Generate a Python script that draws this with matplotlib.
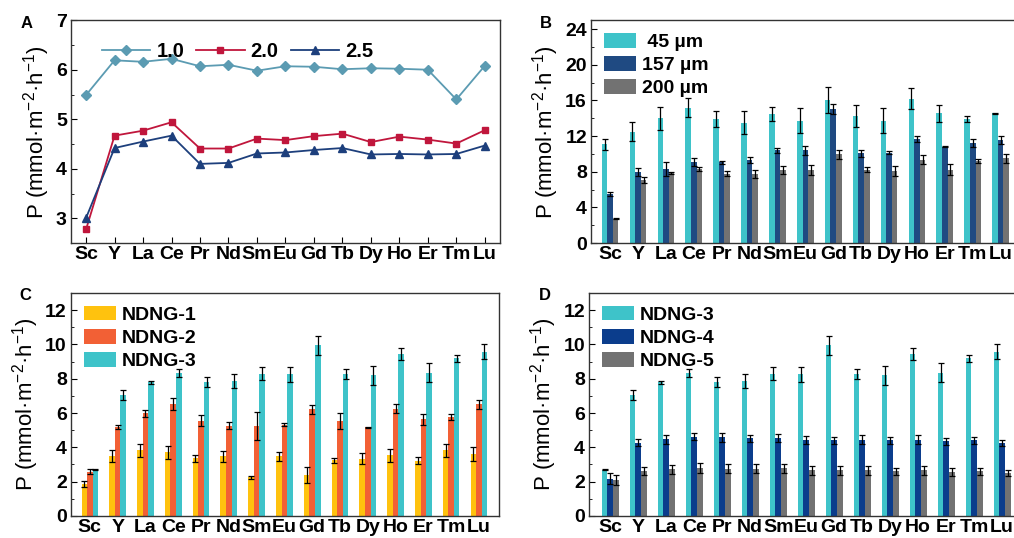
import numpy as np
import matplotlib
matplotlib.use("Agg")
import matplotlib.pyplot as plt
from matplotlib.ticker import MultipleLocator

plt.rcParams['font.family'] = ['Liberation Sans', 'DejaVu Sans']
plt.rcParams['mathtext.fontset'] = 'custom'
plt.rcParams['mathtext.rm'] = 'Liberation Sans'
plt.rcParams['mathtext.it'] = 'Liberation Sans:italic'
plt.rcParams['mathtext.bf'] = 'Liberation Sans:bold'

elements = ['Sc', 'Y', 'La', 'Ce', 'Pr', 'Nd', 'Sm', 'Eu', 'Gd', 'Tb', 'Dy', 'Ho', 'Er', 'Tm', 'Lu']

# Panel A: three ratios
a_10 = [5.49, 6.19, 6.16, 6.22, 6.07, 6.10, 5.98, 6.07, 6.06, 6.01, 6.03, 6.02, 6.00, 5.40, 6.08]
a_20 = [2.78, 4.67, 4.77, 4.94, 4.41, 4.41, 4.61, 4.58, 4.66, 4.71, 4.54, 4.65, 4.59, 4.51, 4.78]
a_25 = [3.01, 4.42, 4.55, 4.67, 4.10, 4.12, 4.31, 4.33, 4.38, 4.42, 4.29, 4.30, 4.29, 4.30, 4.47]

# Panel B: thickness
b_45 = [11.1, 12.5, 14.0, 15.2, 13.9, 13.5, 14.5, 13.7, 16.05, 14.25, 13.7, 16.2, 14.55, 13.9, 14.55]
b_45_err = [0.6, 1.1, 1.3, 1.1, 0.9, 1.3, 0.8, 1.4, 1.5, 1.25, 1.4, 1.2, 0.95, 0.35, 0.08]
b_157 = [5.5, 8.0, 8.35, 9.1, 9.05, 9.3, 10.4, 10.4, 15.0, 10.1, 10.15, 11.7, 10.8, 11.2, 11.6]
b_157_err = [0.25, 0.45, 0.8, 0.45, 0.2, 0.35, 0.25, 0.5, 0.55, 0.4, 0.15, 0.35, 0.05, 0.45, 0.45]
b_200 = [2.75, 7.05, 7.9, 8.3, 7.8, 7.8, 8.25, 8.2, 9.95, 8.25, 8.1, 9.35, 8.25, 9.2, 9.5]
b_200_err = [0.03, 0.35, 0.1, 0.2, 0.25, 0.45, 0.45, 0.55, 0.5, 0.3, 0.6, 0.5, 0.6, 0.2, 0.55]

# Panels C and D: membranes
ndng1 = [1.86, 3.5, 3.82, 3.7, 3.37, 3.47, 2.25, 3.47, 2.4, 3.24, 3.33, 3.53, 3.22, 3.82, 3.63]
ndng1_err = [0.15, 0.33, 0.38, 0.4, 0.2, 0.3, 0.1, 0.28, 0.48, 0.15, 0.33, 0.4, 0.2, 0.38, 0.4]
ndng2 = [2.59, 5.2, 5.98, 6.5, 5.55, 5.25, 5.25, 5.33, 6.22, 5.53, 5.16, 6.25, 5.63, 5.78, 6.5]
ndng2_err = [0.15, 0.13, 0.2, 0.35, 0.33, 0.2, 0.83, 0.07, 0.25, 0.45, 0.03, 0.25, 0.3, 0.18, 0.25]
ndng3 = [2.7, 7.03, 7.78, 8.31, 7.8, 7.85, 8.3, 8.25, 9.94, 8.27, 8.19, 9.43, 8.35, 9.18, 9.58]
ndng3_err = [0.03, 0.3, 0.1, 0.23, 0.3, 0.4, 0.4, 0.45, 0.57, 0.3, 0.57, 0.35, 0.55, 0.23, 0.43]
ndng4 = [2.17, 4.28, 4.47, 4.63, 4.58, 4.53, 4.55, 4.42, 4.4, 4.45, 4.4, 4.45, 4.35, 4.4, 4.24]
ndng4_err = [0.33, 0.23, 0.25, 0.2, 0.25, 0.2, 0.23, 0.22, 0.2, 0.25, 0.2, 0.25, 0.2, 0.2, 0.18]
ndng5 = [2.09, 2.61, 2.71, 2.8, 2.75, 2.75, 2.77, 2.65, 2.65, 2.65, 2.61, 2.65, 2.57, 2.61, 2.5]
ndng5_err = [0.27, 0.25, 0.25, 0.28, 0.25, 0.25, 0.27, 0.25, 0.25, 0.25, 0.2, 0.25, 0.22, 0.2, 0.2]

ylab = 'P (mmol·m$^{-2}$·h$^{-1}$)'
x = np.arange(len(elements))

fig = plt.figure(figsize=(10.14, 5.38), dpi=100)
axA = fig.add_axes([0.070, 0.548, 0.423, 0.4145])
axB = fig.add_axes([0.583, 0.548, 0.425, 0.4145])
axC = fig.add_axes([0.070, 0.041, 0.422, 0.4145])
axD = fig.add_axes([0.581, 0.041, 0.425, 0.4145])


def style(ax, major, minor, ylim, xlim, xticks_visible):
    ax.set_xlim(*xlim)
    ax.set_ylim(*ylim)
    ax.yaxis.set_major_locator(MultipleLocator(major))
    ax.yaxis.set_minor_locator(MultipleLocator(minor))
    ax.set_xticks(x)
    ax.set_xticklabels(elements)
    ax.tick_params(axis='y', which='both', direction='in', labelsize=14, right=False)
    ax.tick_params(axis='y', which='major', length=4, pad=3)
    ax.tick_params(axis='y', which='minor', length=2.5)
    ax.tick_params(axis='x', direction='in', labelsize=14, pad=2,
                   length=4 if xticks_visible else 0)
    for lab in ax.get_xticklabels() + ax.get_yticklabels():
        lab.set_fontweight('bold')
    for s in ax.spines.values():
        s.set_linewidth(1.0)
        s.set_color('#333333')
    ax.set_ylabel(ylab, fontsize=16, labelpad=3)


# Panel A
axA.plot(x, a_10, '-D', color='#5b9bb2', ms=5.5, lw=1.3, label='1.0')
axA.plot(x, a_20, '-s', color='#c0163c', ms=5, lw=1.3, label='2.0')
axA.plot(x, a_25, '-^', color='#1d3f7c', ms=6, lw=1.3, label='2.5')
style(axA, 1, 0.5, (2.5, 7.0), (-0.53, 14.53), True)
axA.legend(loc='upper left', ncol=3, frameon=False, prop={'weight': 'bold', 'size': 14.5},
           handlelength=2.4, handletextpad=0.3, columnspacing=0.6,
           bbox_to_anchor=(0.03, 0.985))

w = 0.2
ekw = dict(ecolor='black', capsize=2, elinewidth=0.9, capthick=0.9)


def bars(ax, series, errs, colors, labels):
    offs = [-w, 0, w]
    for s, e, c, l, o in zip(series, errs, colors, labels, offs):
        ax.bar(x + o, s, w, yerr=e, color=c, label=l, error_kw=ekw)


leg_kw = dict(loc='upper left', frameon=False, prop={'weight': 'bold', 'size': 14},
              handlelength=1.65, handleheight=0.8, handletextpad=0.3,
              labelspacing=0.25, borderaxespad=0.25)

# Panel B
bars(axB, [b_45, b_157, b_200], [b_45_err, b_157_err, b_200_err],
     ['#3ec3c9', '#1f4a82', '#727272'], [' 45 µm', '157 µm', '200 µm'])
style(axB, 4, 2, (0, 25), (-0.68, 14.77), False)
axB.legend(**leg_kw)

# Panel C
bars(axC, [ndng1, ndng2, ndng3], [ndng1_err, ndng2_err, ndng3_err],
     ['#ffc20e', '#f26035', '#3ec3c9'], ['NDNG-1', 'NDNG-2', 'NDNG-3'])
style(axC, 2, 1, (0, 13), (-0.68, 14.72), False)
axC.legend(**leg_kw)

# Panel D
bars(axD, [ndng3, ndng4, ndng5], [ndng3_err, ndng4_err, ndng5_err],
     ['#3ec3c9', '#0b3d8c', '#727272'], ['NDNG-3', 'NDNG-4', 'NDNG-5'])
style(axD, 2, 1, (0, 13), (-0.75, 14.64), False)
axD.legend(**leg_kw)

# Panel letters
for lab, px, py in [('A', 27, 23), ('B', 546, 23), ('C', 25, 296), ('D', 545, 296)]:
    fig.text(px / 1014, 1 - py / 538, lab, fontsize=12, fontweight='bold',
             ha='center', va='center')

fig.savefig('out.png', dpi=100)
